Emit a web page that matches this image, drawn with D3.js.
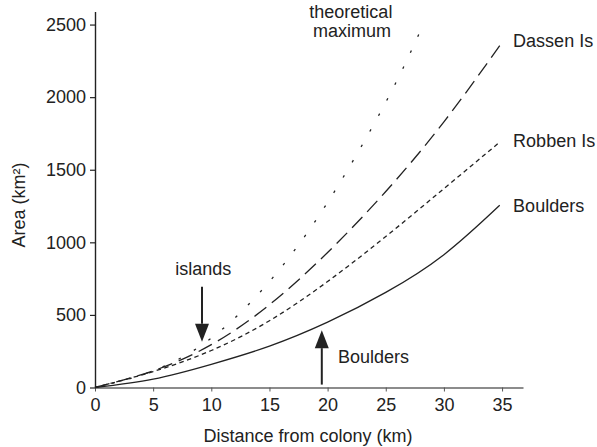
<!DOCTYPE html>
<html>
<head>
<meta charset="utf-8">
<script src="https://cdn.jsdelivr.net/npm/d3@7"></script>
<style>
    body { margin: 0; background: #fff; }
    svg { display: block; font-family: "Liberation Sans", Arial, Helvetica, sans-serif; }
</style>
</head>
<body>
<svg id="chart" width="597" height="447"></svg>
<script>
/**
 * Foraging area against distance from colony
 */

// distances (km) where the curves were read
let distance = [0, 5, 10, 15, 20, 25, 30, 34.8];
let theoryDistance = [0, 5, 10, 15, 20, 25, 28];

// areas (km^2)
let boulders = [0, 58, 160, 285, 450, 655, 915, 1255];
let robben = [0, 110, 255, 460, 730, 1040, 1370, 1690];
let dassen = [0, 115, 295, 570, 930, 1350, 1830, 2355];
let theoretical = [0, 115, 340, 730, 1275, 1965, 2460];

let xTicks = [0, 5, 10, 15, 20, 25, 30, 35];
let yTicks = [0, 500, 1000, 1500, 2000, 2500];

let fontSize = 18;
let ink = "#222";

let svg = d3.select("#chart");

let x = d3.scaleLinear().domain([0, 36.8]).range([95, 523]);
let y = d3.scaleLinear().domain([0, 2590]).range([387.5, 11.5]);

// axes
let xAxis = svg.append("g")
    .attr("transform", "translate(0," + y(0) + ")")
    .call(d3.axisBottom(x).tickValues(xTicks).tickFormat(d3.format("d"))
        .tickSize(4).tickSizeOuter(0).tickPadding(6.5));
xAxis.select(".domain").attr("stroke", "#666").attr("stroke-width", 1.6);
xAxis.selectAll(".tick line").attr("stroke", "#555");

let yAxis = svg.append("g")
    .attr("transform", "translate(" + x(0) + ",0)")
    .call(d3.axisLeft(y).tickValues(yTicks).tickFormat(d3.format("d"))
        .tickSize(5).tickSizeOuter(0).tickPadding(4));
yAxis.select(".domain").attr("stroke", ink).attr("stroke-width", 1.4);
yAxis.selectAll(".tick line").attr("stroke", ink).attr("stroke-width", 1.2);

svg.selectAll(".tick text")
    .attr("font-size", fontSize)
    .attr("font-family", "\"Liberation Sans\", Arial, sans-serif")
    .attr("fill", ink);

// axis titles
svg.append("text")
    .attr("x", 308)
    .attr("y", 441.5)
    .attr("text-anchor", "middle")
    .attr("font-size", fontSize)
    .attr("fill", ink)
    .text("Distance from colony (km)");

svg.append("text")
    .attr("transform", "translate(25,205) rotate(-90)")
    .attr("text-anchor", "middle")
    .attr("font-size", fontSize)
    .attr("fill", ink)
    .text("Area (km²)");

/**
 * Draws one curve
 * @param xs distances
 * @param ys areas
 * @param dash stroke-dasharray, null for solid
 */
function drawCurve(xs, ys, dash) {
    let line = d3.line()
        .x((d, i) => x(xs[i]))
        .y(d => y(d))
        .curve(d3.curveNatural);

    svg.append("path")
        .datum(ys)
        .attr("d", line)
        .attr("fill", "none")
        .attr("stroke", ink)
        .attr("stroke-width", 1.3)
        .attr("stroke-dasharray", dash);
}

drawCurve(distance, boulders, null);
drawCurve(distance, robben, "4.5,3.5");
drawCurve(distance, dassen, "15,7");
drawCurve(theoryDistance, theoretical, "2.5,15.2");

// curve labels
let labels = [
    {text: "theoretical", x: 22.0, y: 2543, anchor: "middle"},
    {text: "maximum", x: 22.1, y: 2416, anchor: "middle"},
    {text: "Dassen Is", x: 35.95, y: 2347, anchor: "start"},
    {text: "Robben Is", x: 35.95, y: 1656, anchor: "start"},
    {text: "Boulders", x: 35.95, y: 1211, anchor: "start"},
    {text: "islands", x: 9.3, y: 775, anchor: "middle"},
    {text: "Boulders", x: 20.9, y: 169, anchor: "start"}
];

svg.selectAll(".label")
    .data(labels)
    .enter()
    .append("text")
    .attr("class", "label")
    .attr("x", d => x(d.x))
    .attr("y", d => y(d.y))
    .attr("text-anchor", d => d.anchor)
    .attr("font-size", fontSize)
    .attr("fill", ink)
    .text(d => d.text);

/**
 * Draws a vertical arrow with a filled head
 * @param xv distance of the arrow
 * @param from area at the tail
 * @param to area at the tip
 */
function drawArrow(xv, from, to) {
    let px = x(xv);
    let y0 = y(from);
    let y1 = y(to);
    let dir = y1 > y0 ? 1 : -1;
    let headLen = 18;
    let halfWidth = 7;

    svg.append("line")
        .attr("x1", px)
        .attr("x2", px)
        .attr("y1", y0)
        .attr("y2", y1 - dir * headLen)
        .attr("stroke", ink)
        .attr("stroke-width", 2);

    svg.append("path")
        .attr("d", "M" + px + "," + y1 +
            "L" + (px - halfWidth) + "," + (y1 - dir * headLen) +
            "L" + (px + halfWidth) + "," + (y1 - dir * headLen) + "Z")
        .attr("fill", ink);
}

drawArrow(9.2, 694, 315);
drawArrow(19.5, 20, 395);
</script>
</body>
</html>
